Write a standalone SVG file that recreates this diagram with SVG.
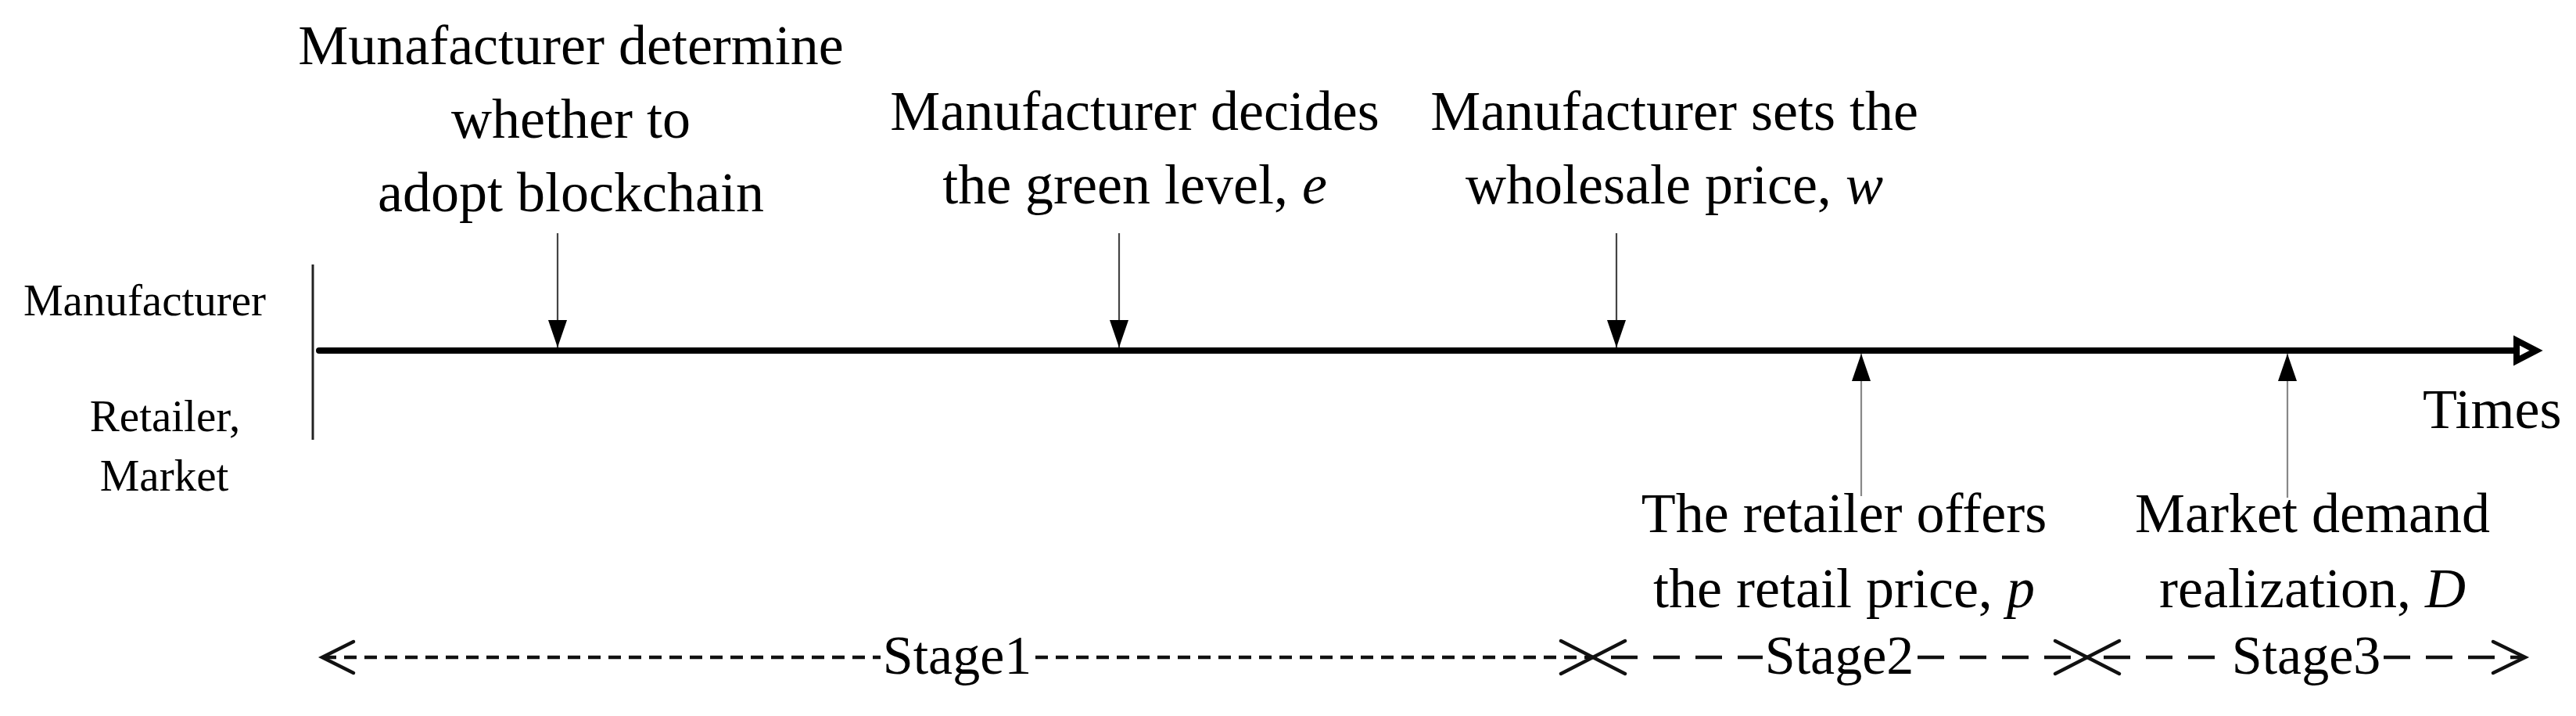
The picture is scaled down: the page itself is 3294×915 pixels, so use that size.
<svg xmlns="http://www.w3.org/2000/svg" width="3294" height="915" viewBox="0 0 3294 915">
<style>
text{font-family:"Liberation Serif","Times New Roman",serif;fill:#000;}
.lbl{font-size:72px;text-anchor:middle;}
.side{font-size:57px;text-anchor:middle;}
.stg{font-size:70px;text-anchor:middle;}
.it{font-style:italic;}
.dn{stroke:#444;stroke-width:2.2;fill:none;}
.up{stroke:#888;stroke-width:2.2;fill:none;}
.d1{stroke:#111;stroke-width:4.5;stroke-dasharray:16 10;fill:none;}
.d2{stroke:#111;stroke-width:4.5;stroke-dasharray:34 20;fill:none;}
.chev{stroke:#111;stroke-width:4.5;fill:none;stroke-linecap:round;stroke-linejoin:miter;}
</style>
<defs>
<marker id="ah" viewBox="0 0 35 24" refX="35" refY="12" markerWidth="35" markerHeight="24" markerUnits="userSpaceOnUse" orient="auto">
<path d="M0,0 L35,12 L0,24 Z" fill="#000"/>
</marker>
</defs>
<rect width="3294" height="915" fill="#fff"/>

<g id="axis">
<line x1="400" y1="338" x2="400" y2="562" stroke="#222" stroke-width="3"/>
<line x1="408" y1="448" x2="3216" y2="448" stroke="#000" stroke-width="8" stroke-linecap="round"/>
<polygon points="3218,435 3218,461 3243,448" fill="#fff" stroke="#000" stroke-width="8" stroke-linejoin="miter"/>
<text x="3098" y="547" style="font-size:72px">Times</text>
</g>

<g id="actors">
<text class="side" x="185" y="403">Manufacturer</text>
<text class="side" x="211" y="551">Retailer,</text>
<text class="side" x="210" y="627">Market</text>
</g>

<g id="connectors">
<line class="dn" x1="713" y1="298" x2="713" y2="444" marker-end="url(#ah)"/>
<line class="dn" x1="1431" y1="298" x2="1431" y2="444" marker-end="url(#ah)"/>
<line class="dn" x1="2067" y1="298" x2="2067" y2="444" marker-end="url(#ah)"/>
<line class="up" x1="2380" y1="634" x2="2380" y2="452" marker-end="url(#ah)"/>
<line class="up" x1="2925" y1="636" x2="2925" y2="452" marker-end="url(#ah)"/>
</g>

<g id="event1">
<text class="lbl" x="730" y="82">Munafacturer determine</text>
<text class="lbl" x="730" y="176">whether to</text>
<text class="lbl" x="730" y="270">adopt blockchain</text>
</g>
<g id="event2">
<text class="lbl" x="1451" y="166">Manufacturer decides</text>
<text class="lbl" x="1451" y="260">the green level, <tspan class="it">e</tspan></text>
</g>
<g id="event3">
<text class="lbl" x="2141" y="166">Manufacturer sets the</text>
<text class="lbl" x="2141" y="260">wholesale price, <tspan class="it">w</tspan></text>
</g>
<g id="event4">
<text class="lbl" x="2358" y="680">The retailer offers</text>
<text class="lbl" x="2358" y="776">the retail price, <tspan class="it">p</tspan></text>
</g>
<g id="event5">
<text class="lbl" x="2957" y="680">Market demand</text>
<text class="lbl" x="2957" y="776">realization, <tspan class="it">D</tspan></text>
</g>

<g id="stages">
<polyline class="chev" points="452,820 412,840 452,860"/>
<line class="d1" x1="414" y1="840" x2="1126" y2="840"/>
<text class="stg" x="1224" y="861">Stage1</text>
<line class="d1" x1="1324" y1="840" x2="2037" y2="840"/>
<line class="chev" x1="1996" y1="819" x2="2078" y2="861"/>
<line class="chev" x1="1996" y1="861" x2="2078" y2="819"/>
<line class="d2" x1="2060" y1="840" x2="2254" y2="840"/>
<text class="stg" x="2352" y="861">Stage2</text>
<line class="d2" x1="2452" y1="840" x2="2669" y2="840"/>
<line class="chev" x1="2628" y1="819" x2="2710" y2="861"/>
<line class="chev" x1="2628" y1="861" x2="2710" y2="819"/>
<line class="d2" x1="2690" y1="840" x2="2848" y2="840"/>
<text class="stg" x="2949" y="861">Stage3</text>
<line class="d2" x1="3048" y1="840" x2="3228" y2="840"/>
<polyline class="chev" points="3188,820 3229,840 3188,860"/>
</g>
</svg>
